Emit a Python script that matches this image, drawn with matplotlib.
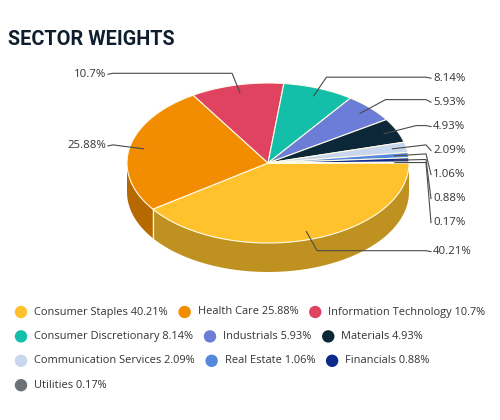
import numpy as np
import matplotlib
matplotlib.use("Agg")
import matplotlib.pyplot as plt
from matplotlib.patches import Polygon, Circle

sectors = ['Consumer Staples', 'Health Care', 'Information Technology',
           'Consumer Discretionary', 'Industrials', 'Materials',
           'Communication Services', 'Real Estate', 'Financials', 'Utilities']
weights = [40.21, 25.88, 10.7, 8.14, 5.93, 4.93, 2.09, 1.06, 0.88, 0.17]
labels = ['40.21%', '25.88%', '10.7%', '8.14%', '5.93%', '4.93%',
          '2.09%', '1.06%', '0.88%', '0.17%']
colors = ['#FFC12C', '#F28C00', '#E0435F', '#14BFAA', '#6B7DD6', '#0C2738',
          '#C8D6EE', '#5588DD', '#0B2A8C', '#6D7278']

# pie geometry in pixels (y goes down)
cx, cy, rx, ry, depth = 268, 163, 141, 80, 29

fig = plt.figure(figsize=(5, 4.2), dpi=100)
ax = fig.add_axes([0, 0, 1, 1])
ax.set_xlim(0, 500)
ax.set_ylim(420, 0)
ax.axis('off')


def pt(t, r=1.0, dz=0):
    t = np.radians(t)
    return cx + r * rx * np.cos(t), cy - r * ry * np.sin(t) + dz


def darker(c, f=0.75):
    rgb = np.array(matplotlib.colors.to_rgb(c))
    return tuple(rgb * f)


total = sum(weights)
starts = []
ends = []
a = 0.0
for w in weights:
    starts.append(a)
    a -= w / total * 360
    ends.append(a)

# side walls (front half only)
for s, e, c in zip(starts, ends, colors):
    lo, hi = max(e, -180), min(s, 0)
    if lo >= hi:
        continue
    ts = np.linspace(hi, lo, 60)
    top = [pt(t) for t in ts]
    bot = [pt(t, dz=depth) for t in ts[::-1]]
    ax.add_patch(Polygon(top + bot, closed=True, facecolor=darker(c),
                         edgecolor='none', zorder=1))
    for t in (hi, lo):
        if -180 < t < 0:
            x0, y0 = pt(t)
            ax.plot([x0, x0], [y0, y0 + depth], color='#fff3c8', lw=0.8, zorder=1.5)

# top faces
for s, e, c in zip(starts, ends, colors):
    ts = np.linspace(s, e, max(int(abs(s - e)), 2) + 1)
    poly = [(cx, cy)] + [pt(t) for t in ts]
    ax.add_patch(Polygon(poly, closed=True, facecolor=c, edgecolor='#fffbe8',
                         lw=0.8, zorder=2))

# data labels with connectors
right_x, left_x = 433, 106
mids = [(s + e) / 2 for s, e in zip(starts, ends)]
items = []
for i, m in enumerate(mids):
    ax_, ay_ = pt(m, 0.9)
    ox, oy = pt(m, 1.15)
    items.append(dict(i=i, anchor=(ax_, ay_), outer=(ox, oy),
                      right=np.cos(np.radians(m)) >= 0))

for side in (True, False):
    grp = sorted([it for it in items if it['right'] == side], key=lambda d: d['outer'][1])
    prev = -1e9
    for it in grp:
        y = max(it['outer'][1] + 1, prev + 24)
        it['ly'] = y
        prev = y

for it in items:
    (ax_, ay_), (ox, oy), ly = it['anchor'], it['outer'], it['ly']
    if it['right']:
        ox = min(ox, right_x - 7)
        xs = [ax_, ox, right_x - 7, right_x - 2]
        ax.text(right_x, ly, labels[it['i']], ha='left', va='center',
                fontsize=8.2, color='#333333', family='Open Sans')
    else:
        ox = max(ox, left_x + 7)
        xs = [ax_, ox, left_x + 7, left_x + 2]
        ax.text(left_x, ly, labels[it['i']], ha='right', va='center',
                fontsize=8.2, color='#333333', family='Open Sans')
    ys = [ay_, oy, oy, ly]
    ax.plot(xs, ys, color='#4a4a4a', lw=0.8, zorder=3)

# title
ax.text(8, 45, 'SECTOR WEIGHTS', ha='left', va='baseline', fontsize=14.3,
        fontweight='bold', color='#0F1E2E', family='Roboto')

# legend (flow layout)
fig.canvas.draw()
renderer = fig.canvas.get_renderer()
x, y = 21, 312
for name, w, c in zip(sectors, weights, colors):
    txt = f'{name} {w:g}%'
    t = ax.text(0, 0, txt, fontsize=7.9, family='Open Sans')
    tw = t.get_window_extent(renderer).width
    t.remove()
    if x + 13 + tw > 495:
        x = 21
        y += 24.4
    ax.add_patch(Circle((x, y), 5.5, color=c, zorder=3))
    ax.text(x + 13, y, txt, ha='left', va='center', fontsize=7.9,
            color='#333333', family='Open Sans')
    x += 13 + tw + 17

fig.savefig('out.png', dpi=100, facecolor='white')
